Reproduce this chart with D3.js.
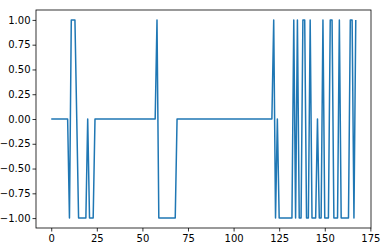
<!DOCTYPE html>
<html>
<head>
<meta charset="utf-8">
<script src="https://cdn.jsdelivr.net/npm/d3@7"></script>
<style>
  html, body { margin: 0; padding: 0; background: #fff; }
  svg { display: block; }
  text { font-family: "DejaVu Sans", sans-serif; }
</style>
</head>
<body>
<svg id="chart" width="385" height="251"></svg>
<script>
// Series values (index 0..167)
const values = [
  0,0,0,0,0,0,0,0,0,0,
  -1,1,1,1,0,-1,-1,-1,-1,-1,
  0,-1,-1,-1,0,0,0,0,0,0,
  0,0,0,0,0,0,0,0,0,0,
  0,0,0,0,0,0,0,0,0,0,
  0,0,0,0,0,0,0,0,1,-1,
  -1,-1,-1,-1,-1,-1,-1,-1,-1,0,
  0,0,0,0,0,0,0,0,0,0,
  0,0,0,0,0,0,0,0,0,0,
  0,0,0,0,0,0,0,0,0,0,
  0,0,0,0,0,0,0,0,0,0,
  0,0,0,0,0,0,0,0,0,0,
  0,0,1,-1,0,-1,-1,-1,-1,-1,
  -1,-1,-1,1,-1,1,-1,-1,1,1,
  -1,-1,1,-1,-1,-1,0,-1,-1,1,
  -1,-1,-1,1,1,-1,-1,-1,1,-1,
  -1,-1,-1,-1,1,1,-1,1
];
const xTicks = [0, 25, 50, 75, 100, 125, 150, 175];
const yTicks = [-1.00, -0.75, -0.50, -0.25, 0.00, 0.25, 0.50, 0.75, 1.00];

const svg = d3.select("#chart");
const mLeft = 36, mRight = 371, mTop = 10, mBottom = 228;

const n = values.length - 1;
const xm = 0.05 * n;
const x = d3.scaleLinear().domain([-xm, n + xm]).range([mLeft, mRight]);
const y = d3.scaleLinear().domain([-1.1, 1.1]).range([mBottom, mTop]);

const line = d3.line()
  .x((d, i) => x(i))
  .y(d => y(d));

svg.append("path")
  .datum(values)
  .attr("d", line)
  .attr("fill", "none")
  .attr("stroke", "#1f77b4")
  .attr("stroke-width", 1.5)
  .attr("stroke-linejoin", "round");

const xAxis = svg.append("g")
  .attr("transform", `translate(0,${mBottom})`)
  .call(d3.axisBottom(x).tickValues(xTicks).tickFormat(d3.format("d"))
    .tickSize(3.5).tickPadding(3.5));
const yAxis = svg.append("g")
  .attr("transform", `translate(${mLeft},0)`)
  .call(d3.axisLeft(y).tickValues(yTicks).tickFormat(d3.format(".2f"))
    .tickSize(3.5).tickPadding(2));

[xAxis, yAxis].forEach(g => {
  g.select(".domain").remove();
  g.selectAll(".tick line").attr("stroke", "#000").attr("stroke-width", 0.8);
  g.selectAll(".tick text")
    .attr("fill", "#000")
    .style("font-size", "10px")
    .style("font-family", "'DejaVu Sans', sans-serif");
});

svg.append("rect")
  .attr("x", mLeft).attr("y", mTop)
  .attr("width", mRight - mLeft).attr("height", mBottom - mTop)
  .attr("fill", "none")
  .attr("stroke", "#000")
  .attr("stroke-width", 0.8);
</script>
</body>
</html>
